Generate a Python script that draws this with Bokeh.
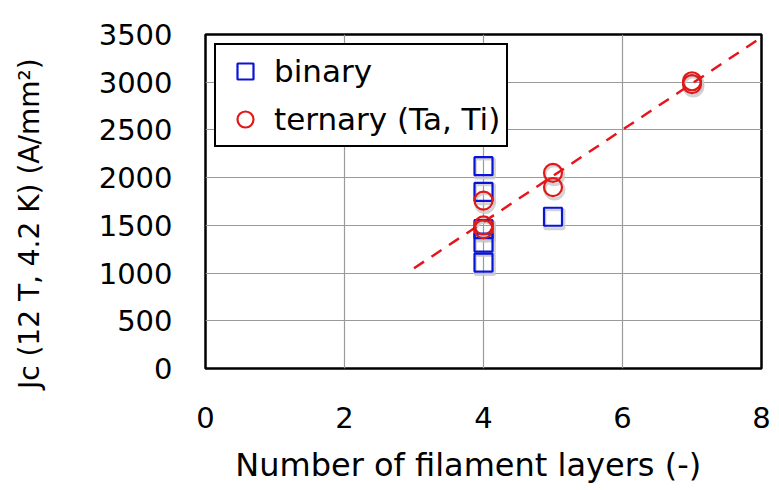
from bokeh.plotting import figure
from bokeh.models import ColumnDataSource, Legend, LegendItem, FixedTicker, Range1d
from bokeh.transform import dodge
from bokeh.embed import file_html
from bokeh.resources import INLINE

# Critical current density vs. number of filament layers
binary_layers = [4, 4, 4, 4, 4, 5]
binary_jc = [2120, 1850, 1460, 1320, 1110, 1590]

ternary_layers = [4, 4, 4, 5, 5, 7, 7]
ternary_jc = [1760, 1500, 1460, 2050, 1900, 3010, 2980]

# linear trend through the ternary data
fit_x = [3, 8]
fit_y = [1050, 3470]

x_ticks = [0, 2, 4, 6, 8]
y_ticks = [0, 500, 1000, 1500, 2000, 2500, 3000, 3500]

FONT = "DejaVu Sans"
NBSP = "\u00a0"

p = figure(width=779, height=490, output_backend="svg", toolbar_location=None,
           x_range=Range1d(0, 8), y_range=Range1d(0, 3500),
           min_border_left=205, min_border_right=18, min_border_top=34,
           min_border_bottom=122)

p.outline_line_color = "black"
p.outline_line_width = 2.5
p.background_fill_color = "white"
p.border_fill_color = "white"

for ax in (p.xaxis[0], p.yaxis[0]):
    ax.axis_line_color = None
    ax.major_tick_line_color = None
    ax.minor_tick_line_color = None
    ax.major_label_text_font = FONT
    ax.major_label_text_font_size = "29px"
    ax.major_label_text_color = "black"
    ax.axis_label_text_font = FONT
    ax.axis_label_text_font_style = "normal"
    ax.axis_label_text_color = "black"

p.xaxis.axis_label_text_font_size = "32px"
p.yaxis.axis_label_text_font_size = "28px"

p.xaxis.ticker = FixedTicker(ticks=x_ticks)
p.yaxis.ticker = FixedTicker(ticks=y_ticks)
p.xaxis.major_label_standoff = 32
p.yaxis.major_label_standoff = 27
# trailing non-breaking spaces nudge the titles off-centre
p.xaxis.axis_label = "Number of filament layers (-)" + NBSP * 3
p.xaxis.axis_label_standoff = 15
p.yaxis.axis_label = "J\u1d04 (12 T, 4.2 K) (A/mm\u00b2)" + NBSP * 5
p.yaxis.axis_label_standoff = 50

p.xgrid.ticker = FixedTicker(ticks=x_ticks)
p.ygrid.ticker = FixedTicker(ticks=y_ticks)
p.grid.grid_line_color = "#9a9a9a"
p.grid.grid_line_width = 1.2

bsrc = ColumnDataSource(dict(x=binary_layers, y=binary_jc))
tsrc = ColumnDataSource(dict(x=ternary_layers, y=ternary_jc))

# soft drop shadows under the markers
for src, mk in ((bsrc, "square"), (tsrc, "circle")):
    p.scatter(x=dodge("x", 0.02, range=p.x_range), y=dodge("y", -25, range=p.y_range),
              source=src, marker=mk, size=19, fill_color=None,
              line_color="#c8c8c8", line_width=3, line_alpha=0.8)

p.line(fit_x, fit_y, line_color="#e8141c", line_width=2.5, line_dash="12 9")

b = p.scatter("x", "y", source=bsrc, marker="square", size=18, fill_color=None,
              line_color="#0a14d6", line_width=2.2)
t = p.scatter("x", "y", source=tsrc, marker="circle", size=18, fill_color=None,
              line_color="#e01818", line_width=2.2)

legend = Legend(items=[LegendItem(label="binary", renderers=[b]),
                       LegendItem(label="ternary (Ta, Ti)", renderers=[t])],
                location="top_left")
legend.label_text_font = FONT
legend.label_text_font_size = "31px"
legend.label_text_color = "black"
legend.border_line_color = "black"
legend.border_line_alpha = 1.0
legend.border_line_width = 2.5
legend.background_fill_alpha = 1
legend.margin = 9
legend.padding = 6
legend.spacing = 8
legend.glyph_width = 46
legend.glyph_height = 40
legend.label_standoff = 6
legend.label_height = 40
p.add_layout(legend, "center")

with open("out.html", "w") as f:
    f.write(file_html(p, INLINE))
